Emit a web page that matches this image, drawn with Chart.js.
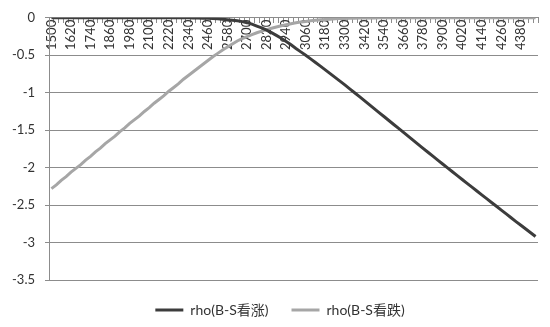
<!DOCTYPE html>
<html>
<head>
<meta charset="utf-8">
<script src="https://cdn.jsdelivr.net/npm/chart.js@4"></script>
<style>
  html, body { margin: 0; padding: 0; background: #fff; }
  #wrap { width: 550px; height: 327px; position: relative; }
</style>
</head>
<body>
<div id="wrap"><canvas id="rhoChart" width="550" height="327"></canvas></div>
<script>
// 标的价格 (category axis)
var prices = [
  '1500','1530','1560','1590','1620','1650','1680','1710','1740','1770',
  '1800','1830','1860','1890','1920','1950','1980','2010','2040','2070',
  '2100','2130','2160','2190','2220','2250','2280','2310','2340','2370',
  '2400','2430','2460','2490','2520','2550','2580','2610','2640','2670',
  '2700','2730','2760','2790','2820','2850','2880','2910','2940','2970',
  '3000','3030','3060','3090','3120','3150','3180','3210','3240','3270',
  '3300','3330','3360','3390','3420','3450','3480','3510','3540','3570',
  '3600','3630','3660','3690','3720','3750','3780','3810','3840','3870',
  '3900','3930','3960','3990','4020','4050','4080','4110','4140','4170',
  '4200','4230','4260','4290','4320','4350','4380','4410','4440','4470'
];

// rho(B-S看涨)
var rhoCall = [
  0, 0, 0, 0, 0, 0, 0, 0, 0, 0,
  0, 0, 0, 0, 0, 0, 0, 0, 0, 0,
  0, 0, 0, 0, 0, 0, 0, 0, -0.001, -0.002,
  -0.003, -0.005, -0.007, -0.01, -0.014, -0.019, -0.025, -0.032, -0.04, -0.051,
  -0.065, -0.085, -0.11, -0.135, -0.165, -0.198, -0.235, -0.273, -0.315, -0.36,
  -0.41, -0.455, -0.5, -0.548, -0.596, -0.645, -0.695, -0.745, -0.795, -0.845,
  -0.896, -0.948, -1.0, -1.053, -1.106, -1.159, -1.212, -1.265, -1.318, -1.371,
  -1.424, -1.477, -1.53, -1.583, -1.636, -1.689, -1.742, -1.795, -1.847, -1.899,
  -1.951, -2.003, -2.055, -2.106, -2.158, -2.21, -2.261, -2.312, -2.363, -2.414,
  -2.465, -2.516, -2.567, -2.618, -2.669, -2.72, -2.77, -2.82, -2.87, -2.92
];

// rho(B-S看跌)
var rhoPut = [
  -2.28, -2.23, -2.17, -2.12, -2.06, -2.01, -1.96, -1.90, -1.85, -1.79,
  -1.74, -1.68, -1.63, -1.58, -1.52, -1.47, -1.41, -1.36, -1.31, -1.25,
  -1.20, -1.14, -1.09, -1.04, -0.98, -0.93, -0.88, -0.82, -0.77, -0.72,
  -0.67, -0.62, -0.57, -0.52, -0.475, -0.43, -0.39, -0.35, -0.31, -0.278,
  -0.25, -0.225, -0.2, -0.178, -0.158, -0.14, -0.122, -0.106, -0.092, -0.079,
  -0.067, -0.057, -0.048, -0.04, -0.033, -0.027, -0.022, -0.018, -0.014, -0.011,
  -0.008, -0.006, -0.005, -0.004, -0.003, -0.002, -0.002, -0.001, -0.001, -0.001,
  0, 0, 0, 0, 0, 0, 0, 0, 0, 0,
  0, 0, 0, 0, 0, 0, 0, 0, 0, 0,
  0, 0, 0, 0, 0, 0, 0, 0, 0, 0
];

var yTicks = [0, -0.5, -1, -1.5, -2, -2.5, -3, -3.5];

var fontFamily = "Lato, 'Noto Sans CJK SC', sans-serif";
var axisGray = '#8c8c8c';

// nudge the legend a little to the right, like the original
var legendShift = {
    id: 'legendShift',
    afterLayout: function(chart) {
        if (chart.legend) {
            chart.legend.left += 11;
            chart.legend.right += 11;
        }
    }
};

var ctx = document.getElementById('rhoChart').getContext('2d');
var rhoChart = new Chart(ctx, {
    type: 'line',
    data: {
        labels: prices,
        datasets: [{
            label: 'rho(B-S看涨)',
            data: rhoCall,
            borderColor: '#3c3c3c',
            backgroundColor: '#3c3c3c',
            borderWidth: 3,
            pointRadius: 0,
            tension: 0
        }, {
            label: 'rho(B-S看跌)',
            data: rhoPut,
            borderColor: '#a6a6a6',
            backgroundColor: '#a6a6a6',
            borderWidth: 3,
            pointRadius: 0,
            tension: 0
        }]
    },
    options: {
        responsive: false,
        animation: false,
        layout: {
            padding: { left: 0, right: 12, top: 17, bottom: 0 }
        },
        plugins: {
            tooltip: { enabled: false },
            legend: {
                position: 'bottom',
                labels: {
                    usePointStyle: true,
                    pointStyle: 'line',
                    pointStyleWidth: 28,
                    color: '#333',
                    padding: 23,
                    font: { family: fontFamily, size: 14 }
                }
            }
        },
        scales: {
            x: {
                type: 'category',
                position: { y: 0 },
                offset: true,
                border: { display: true, color: axisGray, width: 1 },
                grid: {
                    offset: true,
                    drawOnChartArea: false,
                    drawTicks: true,
                    tickLength: 5,
                    color: axisGray
                },
                ticks: {
                    autoSkip: false,
                    minRotation: 90,
                    maxRotation: 90,
                    padding: -3,
                    color: '#333',
                    font: { family: fontFamily, size: 13 },
                    callback: function(value, index) {
                        return index % 4 === 0 ? prices[index] : '';
                    }
                }
            },
            y: {
                min: -3.5,
                max: 0,
                afterFit: function(scale) { scale.width = 49; },
                afterBuildTicks: function(scale) {
                    scale.ticks = yTicks.map(function(v) { return { value: v }; });
                },
                border: { display: true, color: axisGray, width: 1 },
                grid: {
                    color: axisGray,
                    drawTicks: true,
                    tickLength: 4
                },
                ticks: {
                    padding: 10,
                    color: '#333',
                    font: { family: fontFamily, size: 13 },
                    callback: function(value) { return String(value); }
                }
            }
        }
    },
    plugins: [legendShift]
});
</script>
</body>
</html>
